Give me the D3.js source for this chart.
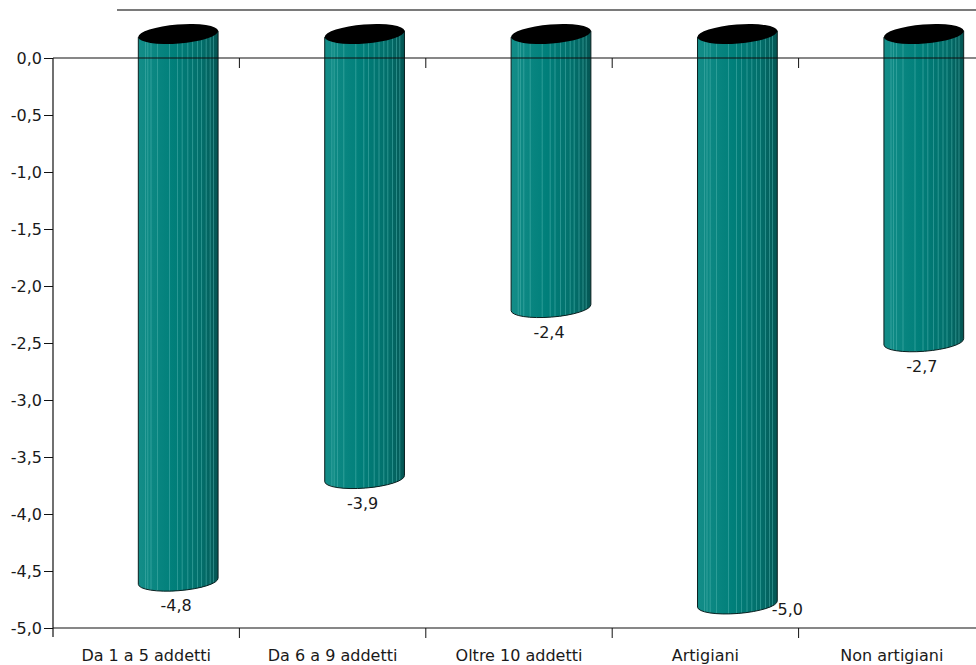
<!DOCTYPE html>
<html><head><meta charset="utf-8">
<script src="https://cdn.jsdelivr.net/npm/d3@7"></script>
<style>
html,body{margin:0;padding:0;background:#fff;}
svg text{font-family:"DejaVu Sans","Noto Sans",sans-serif;font-size:16px;fill:#1a1a1a;}
</style></head><body>
<svg id="c" width="976" height="665"></svg>
<script>
const categories = ["Da 1 a 5 addetti","Da 6 a 9 addetti","Oltre 10 addetti","Artigiani","Non artigiani"];
const values = [-4.8,-3.9,-2.4,-5.0,-2.7];
const valueLabels = ["-4,8","-3,9","-2,4","-5,0","-2,7"];
const yTicks = [0,-0.5,-1,-1.5,-2,-2.5,-3,-3.5,-4,-4.5,-5];
const yTickLabels = ["0,0","-0,5","-1,0","-1,5","-2,0","-2,5","-3,0","-3,5","-4,0","-4,5","-5,0"];
// decorative stripe positions (fraction of cylinder width)
const stripeFrac = [0.09,0.12,0.16,0.24,0.39,0.49,0.55,0.62,0.68,0.74,0.79,0.85,0.9,0.94];

const svg = d3.select("#c");
const y = d3.scaleLinear().domain([-5,0]).range([628,58]);
const x = d3.scaleBand().domain(categories).range([53,985]).padding(0);
const rx = 40, ry = 9.5, rot = -4.5, dx = 32, dy = -24;

const defs = svg.append("defs");
const g = defs.append("linearGradient").attr("id","teal").attr("x1","0").attr("x2","1").attr("y1","0").attr("y2","0");
g.append("stop").attr("offset","0").attr("stop-color","#138d88");
g.append("stop").attr("offset","0.45").attr("stop-color","#007f7a");
g.append("stop").attr("offset","0.8").attr("stop-color","#036e6a");
g.append("stop").attr("offset","1").attr("stop-color","#045553");

// top grey line
svg.append("line").attr("x1",117).attr("x2",976).attr("y1",10).attr("y2",10)
  .attr("stroke","#7a7a7a").attr("stroke-width",2);

// y axis
const yAxis = d3.axisLeft(y).tickValues(yTicks).tickSize(9).tickPadding(2)
  .tickFormat((d,i)=>yTickLabels[i]);
const ya = svg.append("g").attr("transform","translate(53,0)").call(yAxis);
ya.select(".domain").remove();
ya.selectAll("line").attr("stroke","#111");
ya.selectAll("text").attr("font-size",null).attr("font-family",null).attr("fill","#1a1a1a");
svg.append("line").attr("x1",53).attr("x2",53).attr("y1",y(0)).attr("y2",y(-5)+9).attr("stroke","#111").attr("stroke-width",1.2);

// bottom axis
const bounds = categories.map(c=>x(c)).slice(1);
svg.append("line").attr("x1",53).attr("x2",976).attr("y1",y(-5)).attr("y2",y(-5)).attr("stroke","#111").attr("stroke-width",1.2);
svg.selectAll(".bt").data(bounds).join("line").attr("x1",d=>d).attr("x2",d=>d)
  .attr("y1",y(-5)).attr("y2",y(-5)+10).attr("stroke","#111");
svg.selectAll(".cat").data(categories).join("text")
  .attr("x",d=>x(d)+x.bandwidth()/2).attr("y",y(-5)+33).attr("text-anchor","middle").text(d=>d);

// cylinders
const th = rot*Math.PI/180;
const ox = rx*Math.cos(th), oy = rx*Math.sin(th);
const bars = svg.selectAll(".bar").data(values).join("g");
bars.each(function(v,i){
  const gg = d3.select(this);
  const cx = x(categories[i]) + x.bandwidth()/2 + dx;
  const yt = y(0) + dy, yb = y(v) + dy;
  const body = `M${cx-ox},${yt-oy} L${cx-ox},${yb-oy} A${rx},${ry} ${rot} 0 0 ${cx+ox},${yb+oy} L${cx+ox},${yt+oy} Z`;
  const cid = "clip"+i;
  defs.append("clipPath").attr("id",cid).append("path").attr("d",body);
  gg.append("path").attr("d",body).attr("fill","url(#teal)");
  gg.append("g").attr("clip-path",`url(#${cid})`).selectAll("line").data(stripeFrac).join("line")
    .attr("x1",f=>cx-rx+f*2*rx).attr("x2",f=>cx-rx+f*2*rx)
    .attr("y1",yt-20).attr("y2",yb+20).attr("stroke","#52b5b0").attr("stroke-width",0.8).attr("opacity",0.7);
  gg.append("path").attr("d",body).attr("fill","none").attr("stroke","#0a1f1f").attr("stroke-width",1);
  gg.append("ellipse").attr("cx",cx).attr("cy",yt).attr("rx",rx).attr("ry",ry)
    .attr("transform",`rotate(${rot},${cx},${yt})`).attr("fill","#000");
  // label
  const lab = gg.append("text").text(valueLabels[i]);
  if (y(v) + 14 > y(-5) - 8) {
    lab.attr("x",cx+rx+10).attr("y",yb+11).attr("text-anchor","middle");
  } else {
    lab.attr("x",cx-2).attr("y",y(v)+6).attr("text-anchor","middle");
  }
});

// zero line on top (drawn over bars)
svg.append("line").attr("x1",53).attr("x2",976).attr("y1",y(0)).attr("y2",y(0)).attr("stroke","#111").attr("stroke-width",1.2);
svg.selectAll(".zt").data(bounds).join("line").attr("x1",d=>d).attr("x2",d=>d)
  .attr("y1",y(0)).attr("y2",y(0)+10).attr("stroke","#111");
</script></body></html>
